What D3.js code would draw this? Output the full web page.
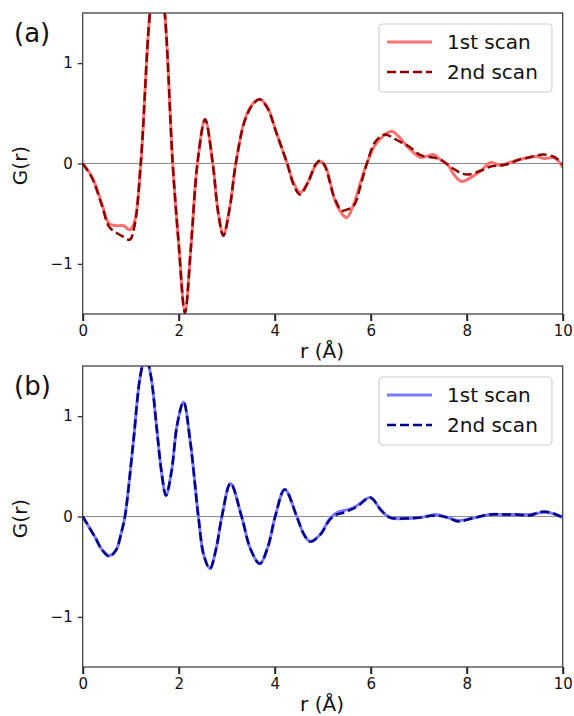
<!DOCTYPE html>
<html lang="en">
<head>
<meta charset="UTF-8">
<title>G(r) scans</title>
<style>
  body { margin: 0; background: #fff; }
  text { font-family: "DejaVu Sans", sans-serif; fill: #111; }
</style>
<script src="https://d3js.org/d3.v7.min.js"></script>
</head>
<body>
<svg id="chart" width="574" height="716"></svg>
<script>
// ---- data ----
const rA = [0, 0.2, 0.4, 0.55, 0.7, 0.85, 0.98, 1.08, 1.21, 1.4, 1.56, 1.71, 1.875, 2.0, 2.13, 2.26, 2.39,
  2.55, 2.71, 2.82, 2.93, 3.06, 3.19, 3.38, 3.55, 3.69, 3.85, 4.04, 4.26, 4.4, 4.53, 4.7, 4.85, 4.95,
  5.05, 5.25, 5.4, 5.5, 5.65, 5.8, 5.92, 6.1, 6.3, 6.45, 6.6, 6.8, 7.05, 7.3, 7.45, 7.6, 7.75, 7.9,
  8.05, 8.3, 8.5, 8.7, 8.9, 9.1, 9.3, 9.45, 9.6, 9.8, 9.9, 10];
const gA1 = [0, -0.14, -0.40, -0.60, -0.62, -0.62, -0.66, -0.58, 0, 1.5, 2.1, 1.5, 0, -0.8, -1.47, -0.8, 0,
  0.43, 0, -0.48, -0.71, -0.45, 0, 0.44, 0.6, 0.64, 0.56, 0.30, 0, -0.2, -0.29, -0.18, -0.02, 0.02,
  -0.02, -0.36, -0.50, -0.54, -0.4, -0.17, 0, 0.19, 0.29, 0.32, 0.26, 0.15, 0.06, 0.09, 0.04, -0.01, -0.12, -0.18,
  -0.15, -0.07, 0.01, -0.02, 0.01, 0.04, 0.06, 0.07, 0.05, 0.06, 0.03, -0.04];
const gA2 = [0, -0.15, -0.42, -0.63, -0.69, -0.73, -0.76, -0.62, 0, 1.5, 2.1, 1.5, 0, -0.8, -1.49, -0.8, 0,
  0.44, 0, -0.48, -0.72, -0.45, 0, 0.43, 0.59, 0.64, 0.55, 0.30, 0, -0.22, -0.31, -0.18, -0.01, 0.03,
  -0.03, -0.35, -0.47, -0.46, -0.42, -0.2, 0, 0.22, 0.29, 0.26, 0.22, 0.17, 0.08, 0.06, 0.04, -0.01, -0.06, -0.10,
  -0.11, -0.07, -0.03, -0.02, 0.00, 0.04, 0.06, 0.08, 0.09, 0.07, 0.04, -0.01];

const rB = [0, 0.25, 0.4, 0.555, 0.7, 0.8, 0.88, 1.05, 1.2, 1.31, 1.42, 1.54, 1.64, 1.735, 1.85, 1.97, 2.1,
  2.24, 2.41, 2.52, 2.65, 2.78, 2.9, 3.08, 3.31, 3.5, 3.69, 3.86, 4.01, 4.21, 4.46, 4.6, 4.74, 4.95,
  5.15, 5.3, 5.45, 5.6, 5.75, 5.99, 6.22, 6.4, 6.75, 7.03, 7.37, 7.6, 7.83, 8.1, 8.49, 8.8, 9.04, 9.3,
  9.6, 9.8, 10];
const gB1 = [0, -0.2, -0.33, -0.39, -0.33, -0.17, 0, 0.72, 1.4, 1.6, 1.4, 0.89, 0.45, 0.21, 0.45, 0.92, 1.14,
  0.75, 0, -0.38, -0.52, -0.32, 0, 0.33, 0, -0.33, -0.47, -0.3, 0, 0.27, 0, -0.17, -0.25, -0.18,
  -0.02, 0.04, 0.06, 0.08, 0.12, 0.19, 0.06, -0.01, -0.02, -0.01, 0.02, -0.01, -0.04, -0.02, 0.02, 0.02, 0.02, 0.02,
  0.04, 0.03, -0.01];
const gB2 = [0, -0.2, -0.33, -0.40, -0.33, -0.17, 0, 0.72, 1.4, 1.6, 1.4, 0.89, 0.45, 0.21, 0.45, 0.92, 1.14,
  0.75, 0, -0.38, -0.52, -0.32, 0, 0.33, 0, -0.33, -0.47, -0.3, 0, 0.27, 0, -0.17, -0.25, -0.18,
  -0.03, 0.02, 0.04, 0.07, 0.11, 0.19, 0.06, -0.01, -0.02, -0.01, 0.01, -0.01, -0.05, -0.02, 0.02, 0.02, 0.02, 0.01,
  0.05, 0.03, -0.01];

const xTicks = [0, 2, 4, 6, 8, 10];
const yTicks = [-1, 0, 1];
const seriesNames = ["1st scan", "2nd scan"];

const panels = [
  { label: "(a)", top: 13, r: rA, g1: gA1, g2: gA2, c1: "#ff7272", c2: "#8b0000" },
  { label: "(b)", top: 366, r: rB, g1: gB1, g2: gB2, c1: "#7a7aff", c2: "#00008b" }
];

const svg = d3.select("#chart");
const left = 82.7, right = 562.7, ph = 301;

const x = d3.scaleLinear().domain([0, 10]).range([left, right]);

panels.forEach((p, i) => {
  const y = d3.scaleLinear().domain([-1.5, 1.5]).range([p.top + ph, p.top]);
  const g = svg.append("g");

  g.append("clipPath").attr("id", "clip" + i)
    .append("rect").attr("x", left).attr("y", p.top).attr("width", right - left).attr("height", ph);

  // zero line
  g.append("line")
    .attr("x1", left).attr("x2", right)
    .attr("y1", y(0)).attr("y2", y(0))
    .attr("stroke", "#8a8a8a").attr("stroke-width", 1.2);

  const line = d3.line().x(d => x(d[0])).y(d => y(d[1])).curve(d3.curveCatmullRom.alpha(0.5));
  const pts1 = p.r.map((v, k) => [v, p.g1[k]]);
  const pts2 = p.r.map((v, k) => [v, p.g2[k]]);

  const lines = g.append("g").attr("clip-path", `url(#clip${i})`);
  lines.append("path").attr("d", line(pts1))
    .attr("fill", "none").attr("stroke", p.c1).attr("stroke-width", 3);
  lines.append("path").attr("d", line(pts2))
    .attr("fill", "none").attr("stroke", p.c2).attr("stroke-width", 2.5)
    .attr("stroke-dasharray", "9,4");

  // axes
  const xAxis = d3.axisBottom(x).tickValues(xTicks).tickSize(7).tickPadding(4).tickFormat(d3.format("d"));
  const gx = g.append("g").attr("transform", `translate(0,${p.top + ph})`).call(xAxis);
  gx.selectAll("line").attr("stroke", "#222").attr("stroke-width", 2);
  gx.selectAll("text").attr("font-size", 15).attr("font-family", "DejaVu Sans").attr("fill", "#222");
  gx.select(".domain").remove();

  const yAxis = d3.axisLeft(y).tickValues(yTicks).tickSize(5).tickPadding(5)
    .tickFormat(d => d < 0 ? "\u2212" + Math.abs(d) : d);
  const gy = g.append("g").attr("transform", `translate(${left},0)`).call(yAxis);
  gy.selectAll("line").attr("stroke", "#222").attr("stroke-width", 1.2);
  gy.selectAll("text").attr("font-size", 15).attr("font-family", "DejaVu Sans").attr("fill", "#222");
  gy.select(".domain").remove();

  // frame
  g.append("rect").attr("x", left).attr("y", p.top).attr("width", right - left).attr("height", ph)
    .attr("fill", "none").attr("stroke", "#333").attr("stroke-width", 1.2);

  // labels
  g.append("text").attr("x", 322).attr("y", p.top + ph + 44)
    .attr("text-anchor", "middle").attr("font-size", 20).text("r (Å)");
  g.append("text")
    .attr("transform", `translate(27,${y(0) + 2}) rotate(-90)`)
    .attr("text-anchor", "middle").attr("font-size", 20).text("G(r)");
  g.append("text").attr("x", 14).attr("y", p.top + 29)
    .attr("font-size", 26).text(p.label);

  // legend
  const lg = g.append("g").attr("transform", `translate(379,${p.top + 11})`);
  lg.append("rect").attr("width", 173).attr("height", 68).attr("rx", 4)
    .attr("fill", "rgba(255,255,255,0.85)").attr("stroke", "#d0d0d0").attr("stroke-width", 1.2);
  seriesNames.forEach((name, k) => {
    const ly = 18 + k * 30;
    lg.append("line").attr("x1", 8).attr("x2", 53).attr("y1", ly).attr("y2", ly)
      .attr("stroke", k === 0 ? p.c1 : p.c2)
      .attr("stroke-width", k === 0 ? 3 : 2.5)
      .attr("stroke-dasharray", k === 0 ? null : "9,4");
    lg.append("text").attr("x", 68).attr("y", ly + 7).attr("font-size", 20).text(name);
  });
});
</script>
</body>
</html>
